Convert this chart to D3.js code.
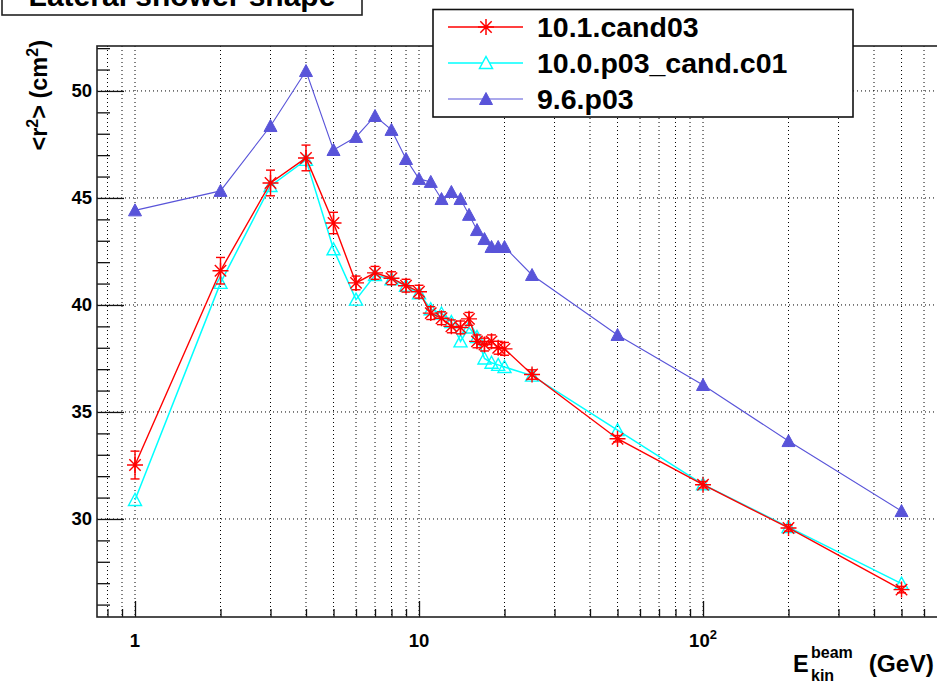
<!DOCTYPE html>
<html><head><meta charset="utf-8">
<script src="https://cdn.jsdelivr.net/npm/d3@7"></script>
<style>
body{margin:0;background:#fff}
svg{display:block}
text{font-family:"Liberation Sans",Arial,Helvetica,sans-serif;font-weight:bold;fill:#000}
</style>
</head><body>
<svg id="c" width="937" height="683"></svg>
<script>
// ---------------- data ----------------
const energies = [1,2,3,4,5,6,7,8,9,10,11,12,13,14,15,16,17,18,19,20,25,50,100,200,500];
const cand03    = [32.52,41.60,45.70,46.87,43.83,41.03,41.50,41.25,40.90,40.62,39.62,39.38,39.00,38.95,39.35,38.30,38.15,38.30,38.00,37.95,36.75,33.75,31.60,29.58,26.70];
const cand03Err = [0.65,0.62,0.60,0.60,0.50,0.32,0.30,0.30,0.30,0.30,0.30,0.30,0.30,0.30,0.30,0.30,0.30,0.30,0.30,0.30,0.22,0.15,0.15,0.15,0.15];
const p03c01    = [30.89,41.03,45.56,46.78,42.60,40.25,41.40,41.20,40.90,40.55,39.80,39.60,39.20,38.30,38.95,38.50,37.50,37.30,37.20,37.10,36.70,34.15,31.62,29.62,26.98];
const p03       = [44.42,45.33,48.36,50.93,47.24,47.85,48.83,48.18,46.82,45.89,45.75,44.95,45.28,44.95,44.21,43.50,43.08,42.71,42.71,42.71,41.40,38.60,36.26,33.64,30.37];
const seriesNames = ["10.1.cand03","10.0.p03_cand.c01","9.6.p03"];
const xMajorTicks = [1,10,100];
const xTickLabels = ["1","10","10^2"];
const xMinorTicks = [0.8,0.9,2,3,4,5,6,7,8,9,20,30,40,50,60,70,80,90,200,300,400,500,600];
const yMajorTicks = [30,35,40,45,50];
const yTickLabels = ["30","35","40","45","50"];
const yMinorTicks = [26,27,28,29,31,32,33,34,36,37,38,39,41,42,43,44,46,47,48,49,51,52];
const titleText = "Lateral shower shape";

// ---------------- layout ----------------
const svg = d3.select("#c");
const L = 97, T = 46, B = 617, R = 940;
const x = d3.scaleLog().domain([0.7348, 683]).range([L, R]);
const y = d3.scaleLinear().domain([25.42, 52.10]).range([B, T]);
const RED = "#ff0000", CYAN = "#00ffff", BLUE = "#5954d9";

// grid
const grid = svg.append("g").attr("stroke","#000").attr("stroke-width",1).attr("stroke-dasharray","1,3");
xMajorTicks.concat(xMinorTicks).forEach(v=>{
  grid.append("line").attr("x1",x(v)).attr("x2",x(v)).attr("y1",T).attr("y2",B);
});
yMajorTicks.forEach(v=>{
  grid.append("line").attr("x1",L).attr("x2",R).attr("y1",y(v)).attr("y2",y(v));
});

// axes ticks via d3 axes
const axB = svg.append("g").attr("transform",`translate(0,${B})`)
  .call(d3.axisBottom(x).tickValues(xMajorTicks).tickSize(-16).tickFormat(""));
const axBm = svg.append("g").attr("transform",`translate(0,${B})`)
  .call(d3.axisBottom(x).tickValues(xMinorTicks).tickSize(-8).tickFormat(""));
const axL = svg.append("g").attr("transform",`translate(${L},0)`)
  .call(d3.axisLeft(y).tickValues(yMajorTicks).tickSize(-27).tickFormat(""));
const axLm = svg.append("g").attr("transform",`translate(${L},0)`)
  .call(d3.axisLeft(y).tickValues(yMinorTicks).tickSize(-13).tickFormat(""));
[axB,axBm,axL,axLm].forEach(g=>{
  g.select(".domain").remove();
  g.selectAll(".tick line").attr("stroke","#111").attr("stroke-width",1.3);
});

// frame
svg.append("rect").attr("x",L).attr("y",T).attr("width",R-L).attr("height",B-T)
  .attr("fill","none").attr("stroke","#222").attr("stroke-width",1.6);

// tick labels
yMajorTicks.forEach((v,i)=>{
  svg.append("text").attr("x",92).attr("y",y(v)+6.5).attr("text-anchor","end")
    .attr("font-size",18.5).text(yTickLabels[i]);
});
xMajorTicks.forEach((v,i)=>{
  const lab = xTickLabels[i];
  const t = svg.append("text").attr("x",x(v)).attr("y",647).attr("text-anchor","middle").attr("font-size",18.5);
  if (lab.includes("^")) {
    const [b,e] = lab.split("^");
    t.append("tspan").text(b);
    t.append("tspan").attr("font-size",13).attr("dy",-8).text(e);
  } else t.text(lab);
});

// axis titles
const xt = svg.append("g");
xt.append("text").attr("x",793).attr("y",672).attr("font-size",23.5).text("E");
xt.append("text").attr("x",811).attr("y",658).attr("font-size",16).text("beam");
xt.append("text").attr("x",811).attr("y",681).attr("font-size",16).text("kin");
xt.append("text").attr("x",934).attr("y",672).attr("text-anchor","end").attr("font-size",24.5).text("(GeV)");

const yt = svg.append("text").attr("transform","translate(47,40) rotate(-90)")
  .attr("text-anchor","end").attr("font-size",23.5);
yt.append("tspan").text("<r");
yt.append("tspan").attr("font-size",16).attr("dy",-9).text("2");
yt.append("tspan").attr("dy",9).text("> (cm");
yt.append("tspan").attr("font-size",16).attr("dy",-9).text("2");
yt.append("tspan").attr("dy",9).text(")");

// markers
const asterisk = "M-8,0H8M0,-8V8M-5.7,-5.7L5.7,5.7M-5.7,5.7L5.7,-5.7";
const tri = "M0,-6.5L6.5,5.5L-6.5,5.5Z";
const lineGen = vals => d3.line().x((d,i)=>x(energies[i])).y(d=>y(d))(vals);

function drawSeries(vals, color, width, marker, filled, errs) {
  const g = svg.append("g");
  g.append("path").attr("d",lineGen(vals)).attr("fill","none").attr("stroke",color).attr("stroke-width",width);
  if (errs) {
    vals.forEach((v,i)=>{
      const cx = x(energies[i]), y1 = y(v-errs[i]), y2 = y(v+errs[i]);
      g.append("line").attr("x1",cx).attr("x2",cx).attr("y1",y1).attr("y2",y2).attr("stroke",color).attr("stroke-width",1.4);
      g.append("line").attr("x1",cx-4.5).attr("x2",cx+4.5).attr("y1",y1).attr("y2",y1).attr("stroke",color).attr("stroke-width",1.4);
      g.append("line").attr("x1",cx-4.5).attr("x2",cx+4.5).attr("y1",y2).attr("y2",y2).attr("stroke",color).attr("stroke-width",1.4);
    });
  }
  vals.forEach((v,i)=>{
    g.append("path").attr("d",marker).attr("transform",`translate(${x(energies[i])},${y(v)})`)
      .attr("fill",filled?color:"none").attr("stroke",color).attr("stroke-width",filled?1:1.4);
  });
}
drawSeries(p03, BLUE, 1.1, tri, true, null);
drawSeries(p03c01, CYAN, 1.5, tri, false, null);
drawSeries(cand03, RED, 1.4, asterisk, false, cand03Err);

// legend
const lg = svg.append("g");
lg.append("rect").attr("x",433).attr("y",9.5).attr("width",420).attr("height",107.5)
  .attr("fill","#fff").attr("stroke","#111").attr("stroke-width",1.6);
const legRows = [27,63,99];
const legColors = [RED, CYAN, BLUE];
const legMarkers = [asterisk, tri, tri];
const legFilled = [false,false,true];
const legWidths = [1.4,1.5,1.1];
seriesNames.forEach((n,i)=>{
  const yy = legRows[i];
  lg.append("line").attr("x1",448).attr("x2",523).attr("y1",yy).attr("y2",yy)
    .attr("stroke",legColors[i]).attr("stroke-width",legWidths[i]);
  lg.append("path").attr("d",legMarkers[i]).attr("transform",`translate(486,${yy})`)
    .attr("fill",legFilled[i]?legColors[i]:"#fff").attr("stroke",legColors[i]).attr("stroke-width",legFilled[i]?1:1.5);
  lg.append("text").attr("x",537).attr("y",yy+10).attr("font-size",28.5).text(n);
});

// title box (cut off at the top edge, as in the reference)
svg.append("rect").attr("x",2).attr("y",-20).attr("width",360).attr("height",35)
  .attr("fill","#fff").attr("stroke","#222").attr("stroke-width",1.6);
svg.append("text").attr("x",182).attr("y",6).attr("text-anchor","middle").attr("font-size",30).text(titleText);
</script>
</body></html>
